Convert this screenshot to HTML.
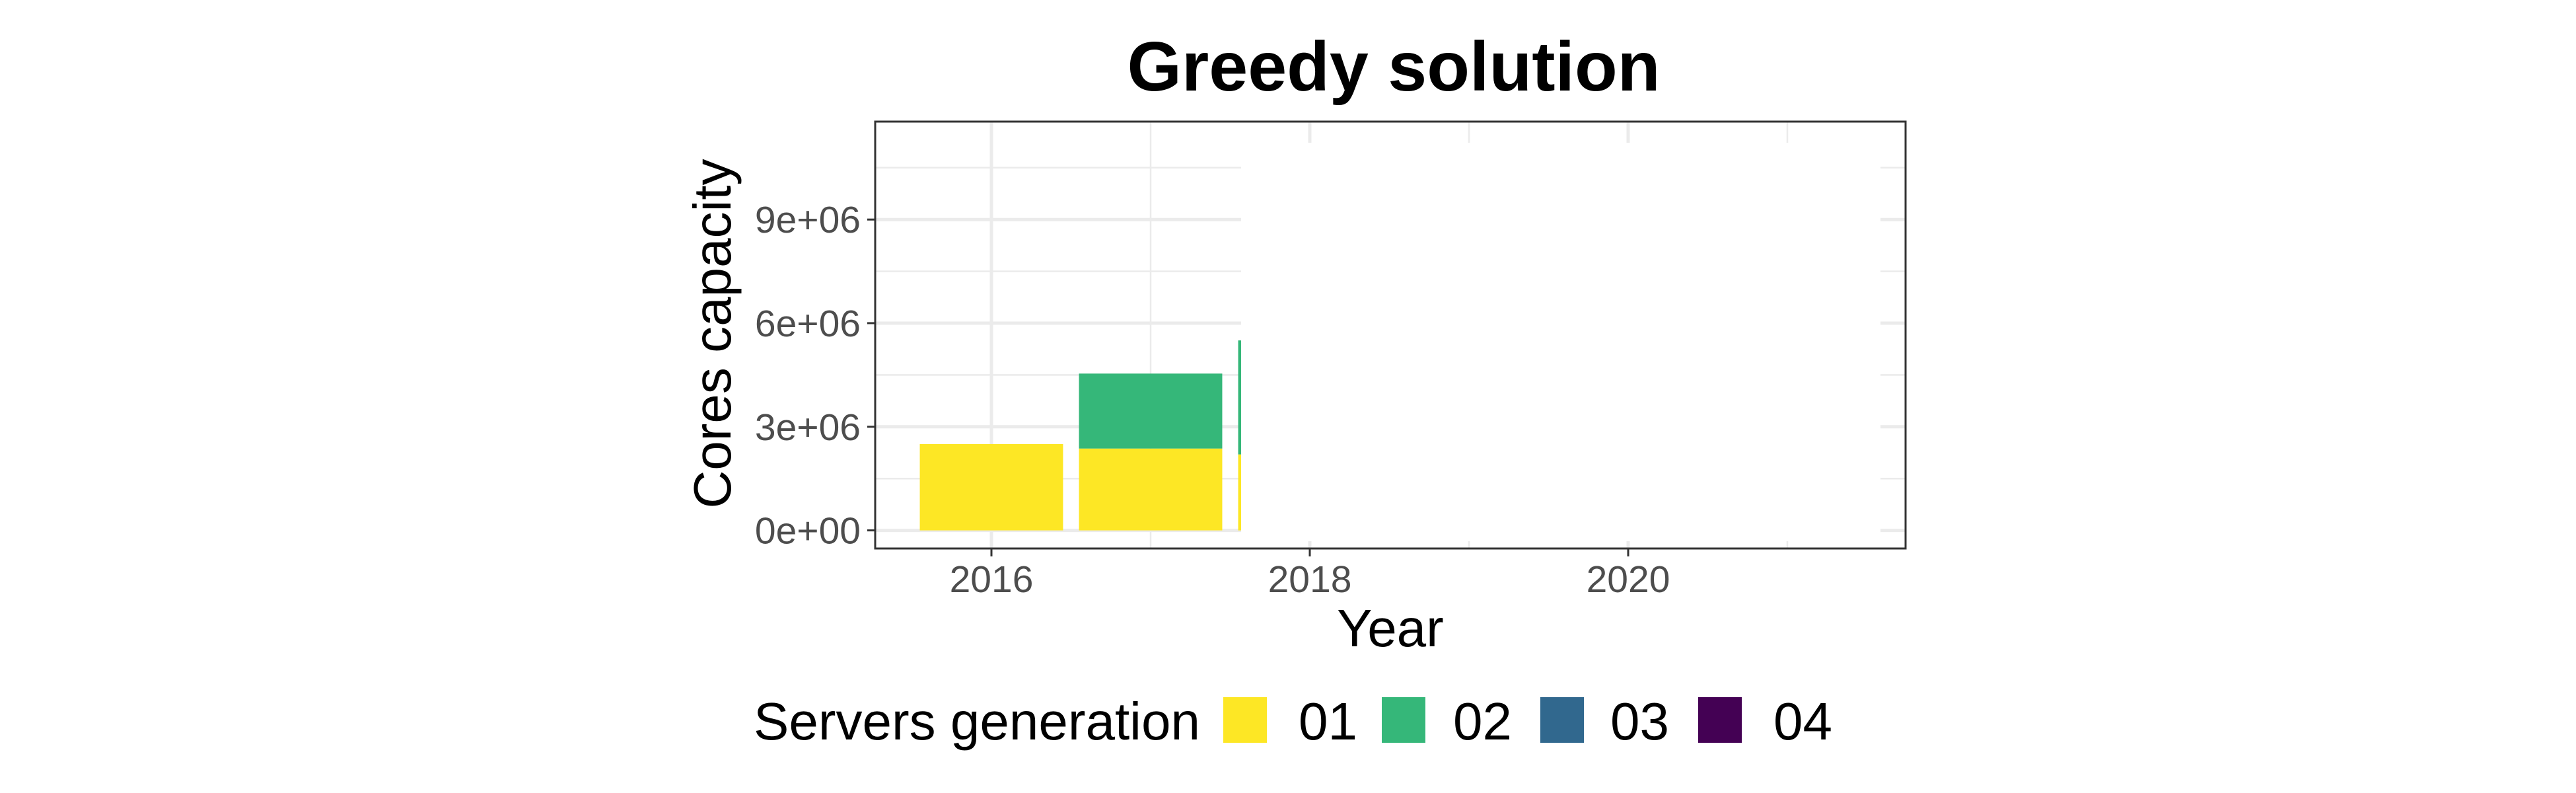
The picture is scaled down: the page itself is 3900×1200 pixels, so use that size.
<!DOCTYPE html>
<html><head><meta charset="utf-8"><style>
html,body{margin:0;padding:0;background:#fff;}
svg{display:block;font-family:"Liberation Sans",sans-serif;}
</style></head><body>
<svg id="chart" width="3900" height="1200">
<text x="2110" y="137" font-size="106" font-weight="bold" text-anchor="middle">Greedy solution</text>
<g id="grid"></g>
<g id="bars"></g>
<rect x="1879" y="216" width="968" height="603" fill="#fff"/>
<rect x="1325" y="184" width="1560" height="646" fill="none" stroke="#333" stroke-width="3"/>
<g id="axes"></g>
<text x="2105" y="978" font-size="80" text-anchor="middle">Year</text>
<text transform="translate(1106,505) rotate(-90)" font-size="80" text-anchor="middle">Cores capacity</text>
<g>
<text x="1141" y="1119" font-size="80">Servers generation</text>
<rect x="1852" y="1055" width="66" height="69" fill="#FDE725"/>
<text x="1966" y="1119" font-size="80">01</text>
<rect x="2092" y="1055" width="66" height="69" fill="#35B779"/>
<text x="2200" y="1119" font-size="80">02</text>
<rect x="2332" y="1055" width="66" height="69" fill="#31688E"/>
<text x="2438" y="1119" font-size="80">03</text>
<rect x="2571" y="1055" width="66" height="69" fill="#440154"/>
<text x="2685" y="1119" font-size="80">04</text>
</g>
</svg>
<script>
const years = [2016, 2017, 2018];
const gen01 = [2.5e6, 2.37e6, 2.2e6];
const gen02 = [0, 2.17e6, 3.3e6];
const yTicks = [0, 3e6, 6e6, 9e6];
const yTickLabels = ["0e+00", "3e+06", "6e+06", "9e+06"];
const xTicks = [2016, 2018, 2020];
const xTickLabels = ["2016", "2018", "2020"];
const colors = ["#FDE725", "#35B779"];

const NS = "http://www.w3.org/2000/svg";
const L = 1325, R = 2885, T = 184, B = 830;
function xs(v){ return 1501 + (v - 2016) * 241; }
function ys(v){ return 802.6 - v / 3e6 * 156.8; }
function mk(tag, attrs, parent){ const e = document.createElementNS(NS, tag); for (const k in attrs) e.setAttribute(k, attrs[k]); parent.appendChild(e); return e; }

const grid = document.getElementById('grid');
mk('rect', {x:L, y:T, width:R-L, height:B-T, fill:'#fff'}, grid);
for (let i = 0; i < 4; i++) {
  const v = yTicks[i] + 1.5e6;
  const l = mk('line', {x1:L, x2:R, y1:ys(v), y2:ys(v), stroke:'#ebebeb', 'stroke-width':2.5}, grid);
  
  
}
for (let y = 2015; y <= 2021; y += 2) {
  if (xs(y) < L || xs(y) > R) continue;
  const l = mk('line', {x1:xs(y), x2:xs(y), y1:T, y2:B, stroke:'#ebebeb', 'stroke-width':2.5}, grid);
  
  
}
yTicks.forEach(v => {
  const l = mk('line', {x1:L, x2:R, y1:ys(v), y2:ys(v), stroke:'#ebebeb', 'stroke-width':5}, grid);
  
  
});
xTicks.forEach(v => {
  const l = mk('line', {x1:xs(v), x2:xs(v), y1:T, y2:B, stroke:'#ebebeb', 'stroke-width':5}, grid);
  
  
});

const bars = document.getElementById('bars');
years.forEach((yr, i) => {
  const x0 = xs(yr - 0.45), w = xs(yr + 0.45) - x0;
  const b1 = mk('rect', {x:x0, y:ys(gen01[i]), width:w, height:ys(0)-ys(gen01[i]), fill:colors[0]}, bars);
  
  
  if (gen02[i] > 0) {
    const top = gen01[i] + gen02[i];
    const b2 = mk('rect', {x:x0, y:ys(top), width:w, height:ys(gen01[i])-ys(top), fill:colors[1]}, bars);
    
    
  }
});

const axes = document.getElementById('axes');
yTicks.forEach((v, i) => {
  const t = mk('line', {x1:L-12, x2:L, y1:ys(v), y2:ys(v), stroke:'#333', 'stroke-width':3}, axes);
  
  
  const tx = mk('text', {x:L-22, y:ys(v)+20, 'font-size':57, fill:'#4d4d4d', 'text-anchor':'end'}, axes);
  tx.textContent = yTickLabels[i];
  
  
});
xTicks.forEach((v, i) => {
  const t = mk('line', {x1:xs(v), x2:xs(v), y1:B, y2:B+12, stroke:'#333', 'stroke-width':3}, axes);
  
  
  const tx = mk('text', {x:xs(v), y:896, 'font-size':57, fill:'#4d4d4d', 'text-anchor':'middle'}, axes);
  tx.textContent = xTickLabels[i];
  
  
});
</script>
</body></html>
